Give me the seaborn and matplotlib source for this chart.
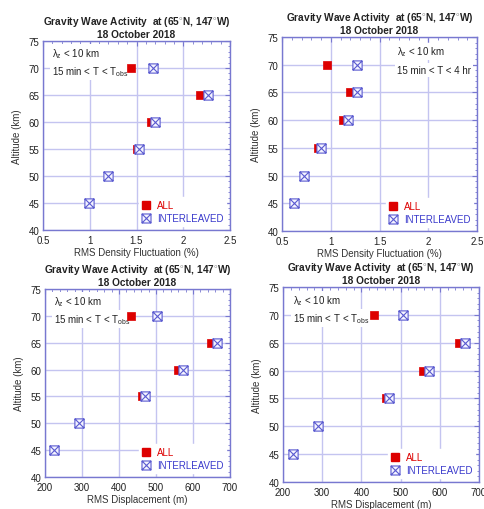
import numpy as np
import pandas as pd
import matplotlib
matplotlib.use("Agg")
import matplotlib.pyplot as plt
from matplotlib.path import Path
from matplotlib.lines import Line2D
from matplotlib.ticker import MultipleLocator
import seaborn as sns

# ---------------- data ----------------
altitude = [70, 65, 60, 55, 50, 45]

dens_obs_all = [1.44, 2.18, 1.66, 1.50, 1.19, 0.99]
dens_obs_int = [1.68, 2.26, 1.70, 1.53, 1.19, 0.99]

dens_4hr_all = [0.96, 1.20, 1.13, 0.87, 0.73, 0.62]
dens_4hr_int = [1.27, 1.27, 1.18, 0.90, 0.73, 0.62]

disp_obs_all = [433, 648, 560, 462, 292, 225]
disp_obs_int = [503, 665, 573, 470, 292, 225]

disp2_obs_all = [433, 648, 558, 462, 290, 225]
disp2_obs_int = [505, 665, 572, 470, 290, 225]

title_text = "Gravity Wave Activity  at (65$^{\\circ}$N, 147$^{\\circ}$W)\n18 October 2018"
xlabel_dens = "RMS Density Fluctuation (%)"
xlabel_disp = "RMS Displacement (m)"
ylabel = "Altitude (km)"
series_labels = ["ALL", "INTERLEAVED"]
note_l1 = "λ$_{z}$ < 10 km"
note_obs = "15 min < T < T$_{obs}$"
note_4hr = "15 min < T < 4 hr"

# ---------------- style ----------------
sns.set_style("white")
plt.rcParams["font.family"] = ["Liberation Sans", "DejaVu Sans"]
plt.rcParams["mathtext.fontset"] = "custom"
plt.rcParams["mathtext.rm"] = "Liberation Sans"
plt.rcParams["mathtext.it"] = "Liberation Sans"
plt.rcParams["mathtext.bf"] = "Liberation Sans:bold"

RED = "#dd0000"
BLUE = "#3a3acc"
MBLUE = "#5a5ad0"
FRAME = "#7878d0"
GRID = "#c4c4f0"
FS = 7.0

# square with an X inside
box_x = Path(
    [(-1, -1), (1, -1), (1, 1), (-1, 1), (-1, -1),
     (-1, -1), (1, 1), (-1, 1), (1, -1)],
    [Path.MOVETO, Path.LINETO, Path.LINETO, Path.LINETO, Path.CLOSEPOLY,
     Path.MOVETO, Path.LINETO, Path.MOVETO, Path.LINETO],
)

fig = plt.figure(figsize=(4.85, 5.10), dpi=100)

panels = [
    dict(rect=[43/485, 1-231/510, 187/485, 189/510], xa=dens_obs_all, xi=dens_obs_int,
         xlim=(0.5, 2.5), xmin=0.1, xlabel=xlabel_dens, note2=note_obs, right=False,
         xticks=[0.5, 1, 1.5, 2, 2.5], xtl=["0.5", "1", "1.5", "2", "2.5"]),
    dict(rect=[282/485, 1-232/510, 195/485, 194/510], xa=dens_4hr_all, xi=dens_4hr_int,
         xlim=(0.5, 2.5), xmin=0.1, xlabel=xlabel_dens, note2=note_4hr, right=True,
         xticks=[0.5, 1, 1.5, 2, 2.5], xtl=["0.5", "1", "1.5", "2", "2.5"]),
    dict(rect=[45/485, 1-478/510, 185/485, 188/510], xa=disp_obs_all, xi=disp_obs_int,
         xlim=(200, 700), xmin=20, xlabel=xlabel_disp, note2=note_obs, right=False,
         xticks=[200, 300, 400, 500, 600, 700], xtl=["200", "300", "400", "500", "600", "700"]),
    dict(rect=[283/485, 1-483/510, 196/485, 195/510], xa=disp2_obs_all, xi=disp2_obs_int,
         xlim=(200, 700), xmin=20, xlabel=xlabel_disp, note2=note_obs, right=False,
         xticks=[200, 300, 400, 500, 600, 700], xtl=["200", "300", "400", "500", "600", "700"]),
]

for p in panels:
    ax = fig.add_axes(p["rect"])
    df_all = pd.DataFrame({"x": p["xa"], "y": altitude})
    df_int = pd.DataFrame({"x": p["xi"], "y": altitude})
    sns.scatterplot(data=df_all, x="x", y="y", ax=ax, marker="s", s=32,
                    color=RED, edgecolor=RED, linewidth=0.5, zorder=3, legend=False)
    sns.scatterplot(data=df_int, x="x", y="y", ax=ax, marker=box_x, s=44,
                    facecolor="#f4f4ff", edgecolor=MBLUE, linewidth=0.8, zorder=4, legend=False)
    ax.set_xlim(*p["xlim"])
    ax.set_ylim(40, 75)
    ax.set_xticks(p["xticks"])
    ax.set_xticklabels(p["xtl"])
    ax.set_yticks([40, 45, 50, 55, 60, 65, 70, 75])
    ax.xaxis.set_minor_locator(MultipleLocator(p["xmin"]))
    ax.yaxis.set_minor_locator(MultipleLocator(1))
    ax.grid(True, which="major", color=GRID, linewidth=1.0, zorder=0)
    ax.set_axisbelow(True)
    for sp in ax.spines.values():
        sp.set_color(FRAME)
        sp.set_linewidth(1.0)
    ax.tick_params(which="both", direction="in", top=True, right=True,
                   colors=FRAME, labelcolor="#222222", labelsize=FS)
    ax.tick_params(axis="x", which="major", pad=3.5)
    ax.tick_params(axis="y", which="major", pad=2.5)
    ax.tick_params(which="major", length=3.5, width=0.8)
    ax.tick_params(which="minor", length=1.8, width=0.6)
    ax.set_xlabel(p["xlabel"], fontsize=FS, color="#333333", labelpad=1.5)
    ax.set_ylabel(ylabel, fontsize=FS, color="#333333", labelpad=5)
    ax.set_title(title_text, fontsize=7.3, fontweight="bold", color="#222222",
                 pad=3, linespacing=1.15)

    bbox = dict(facecolor="white", edgecolor="none", pad=1.5)
    if p["right"]:
        x0, y1, y2 = 0.59, 0.925, 0.83
    else:
        x0, y1, y2 = 0.05, 0.935, 0.84
    ax.text(x0, y1, note_l1, transform=ax.transAxes, fontsize=FS,
            ha="left", va="center", color="#222222", bbox=bbox, zorder=2)
    ax.text(x0, y2, p["note2"], transform=ax.transAxes, fontsize=FS,
            ha="left", va="center", color="#222222", bbox=bbox, zorder=2)

    handles = [
        Line2D([], [], linestyle="none", marker="s", markersize=6.0,
               markerfacecolor=RED, markeredgecolor=RED),
        Line2D([], [], linestyle="none", marker=box_x, markersize=6.5,
               markerfacecolor="#f4f4ff", markeredgecolor=MBLUE, markeredgewidth=0.8),
    ]
    leg = ax.legend(handles, series_labels, loc="lower right", fontsize=FS,
                    frameon=True, framealpha=1, edgecolor="white", facecolor="white",
                    handlelength=0.8, handletextpad=0.7, borderpad=0.3,
                    labelspacing=0.3, borderaxespad=0.4, fancybox=False)
    leg.set_zorder(2)
    for t, c in zip(leg.get_texts(), [RED, BLUE]):
        t.set_color(c)

fig.savefig("out.png", dpi=100)
